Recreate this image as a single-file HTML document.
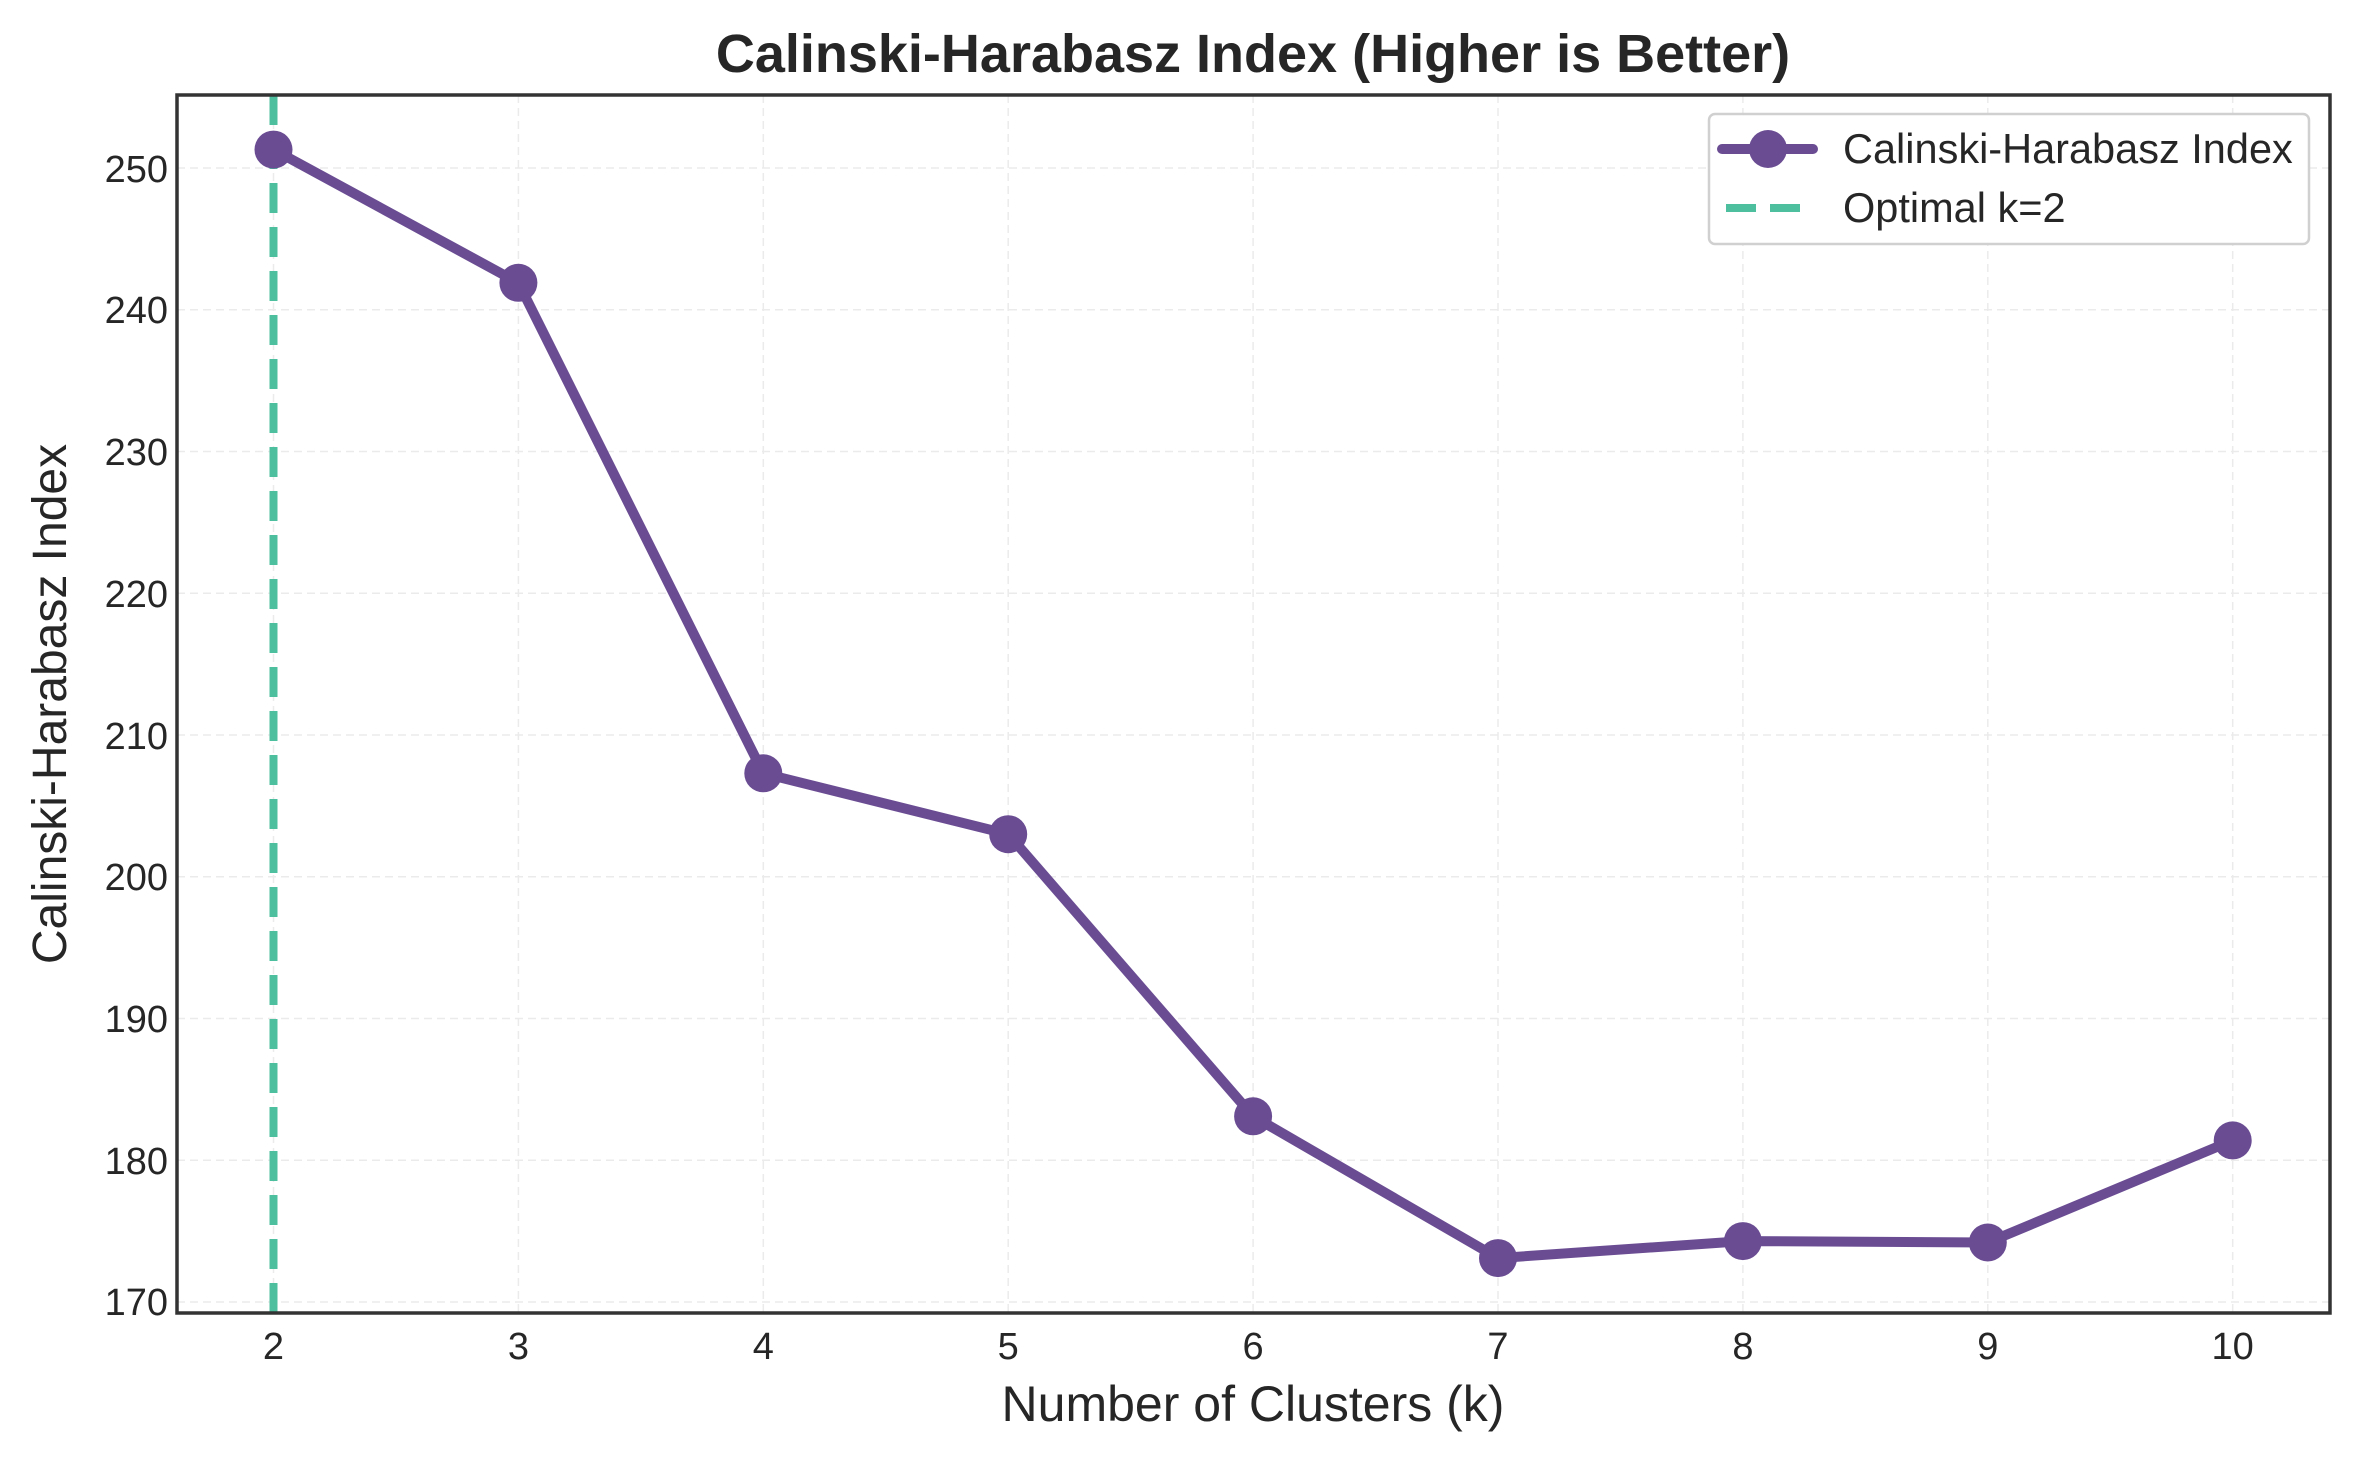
<!DOCTYPE html>
<html><head><meta charset="utf-8"><style>html,body{margin:0;padding:0;background:#fff}svg{display:block}</style></head>
<body>
<svg width="2361" height="1461" viewBox="0 0 2361 1461" xmlns="http://www.w3.org/2000/svg" font-family="Liberation Sans, sans-serif">
<rect width="2361" height="1461" fill="#fff"/>
<g stroke="#ebebeb" stroke-width="1.5" stroke-dasharray="8,5">
<line x1="177" x2="2330" y1="1302" y2="1302"/><line x1="177" x2="2330" y1="1160.3" y2="1160.3"/><line x1="177" x2="2330" y1="1018.5" y2="1018.5"/><line x1="177" x2="2330" y1="876.8" y2="876.8"/><line x1="177" x2="2330" y1="735" y2="735"/><line x1="177" x2="2330" y1="593.3" y2="593.3"/><line x1="177" x2="2330" y1="451.5" y2="451.5"/><line x1="177" x2="2330" y1="309.8" y2="309.8"/><line x1="177" x2="2330" y1="168" y2="168"/>
<line y1="95" y2="1313" x1="273.5" x2="273.5"/><line y1="95" y2="1313" x1="518.4" x2="518.4"/><line y1="95" y2="1313" x1="763.3" x2="763.3"/><line y1="95" y2="1313" x1="1008.2" x2="1008.2"/><line y1="95" y2="1313" x1="1253.1" x2="1253.1"/><line y1="95" y2="1313" x1="1498" x2="1498"/><line y1="95" y2="1313" x1="1742.9" x2="1742.9"/><line y1="95" y2="1313" x1="1987.8" x2="1987.8"/><line y1="95" y2="1313" x1="2232.7" x2="2232.7"/>
</g>
<line x1="273.5" x2="273.5" y1="95" y2="1313" stroke="#4dbf9e" stroke-width="8" stroke-dasharray="30,14"/>
<polyline fill="none" stroke="#6a4c93" stroke-width="10" stroke-linejoin="round" points="273.5,149.6 518.4,282.8 763.3,773.3 1008.2,834.2 1253.1,1116.3 1498,1258.1 1742.9,1241.1 1987.8,1242.5 2232.7,1140.4"/>
<g fill="#6a4c93">
<circle cx="273.5" cy="149.6" r="19"/><circle cx="518.4" cy="282.8" r="19"/><circle cx="763.3" cy="773.3" r="19"/><circle cx="1008.2" cy="834.2" r="19"/><circle cx="1253.1" cy="1116.3" r="19"/><circle cx="1498" cy="1258.1" r="19"/><circle cx="1742.9" cy="1241.1" r="19"/><circle cx="1987.8" cy="1242.5" r="19"/><circle cx="2232.7" cy="1140.4" r="19"/>
</g>
<rect x="177" y="95" width="2153" height="1218" fill="none" stroke="#333" stroke-width="3.5"/>
<g font-size="38" fill="#262626" text-anchor="end">
<text x="168" y="1315">170</text><text x="168" y="1174">180</text><text x="168" y="1032">190</text><text x="168" y="890">200</text><text x="168" y="749">210</text><text x="168" y="607">220</text><text x="168" y="465">230</text><text x="168" y="323">240</text><text x="168" y="182">250</text>
</g>
<g font-size="38" fill="#262626" text-anchor="middle">
<text x="273.5" y="1359">2</text><text x="518.4" y="1359">3</text><text x="763.3" y="1359">4</text><text x="1008.2" y="1359">5</text><text x="1253.1" y="1359">6</text><text x="1498" y="1359">7</text><text x="1742.9" y="1359">8</text><text x="1987.8" y="1359">9</text><text x="2232.7" y="1359">10</text>
</g>
<text x="1253" y="1421" font-size="50" fill="#262626" text-anchor="middle">Number of Clusters (k)</text>
<text transform="translate(66,704) rotate(-90)" font-size="48" fill="#262626" text-anchor="middle">Calinski-Harabasz Index</text>
<text x="1253" y="72" font-size="54" font-weight="bold" fill="#262626" text-anchor="middle">Calinski-Harabasz Index (Higher is Better)</text>
<rect x="1709" y="114" width="600" height="130" rx="6" fill="#fff" stroke="#d0d0d0" stroke-width="2.5"/>
<line x1="1722" x2="1813" y1="149" y2="149" stroke="#6a4c93" stroke-width="10" stroke-linecap="round"/>
<circle cx="1768" cy="149" r="19" fill="#6a4c93"/>
<line x1="1726" x2="1813" y1="208" y2="208" stroke="#4dbf9e" stroke-width="8" stroke-dasharray="30,14"/>
<g font-size="41.5" fill="#262626"><text x="1843" y="163">Calinski-Harabasz Index</text><text x="1843" y="222">Optimal k=2</text></g>
</svg>
</body></html>
